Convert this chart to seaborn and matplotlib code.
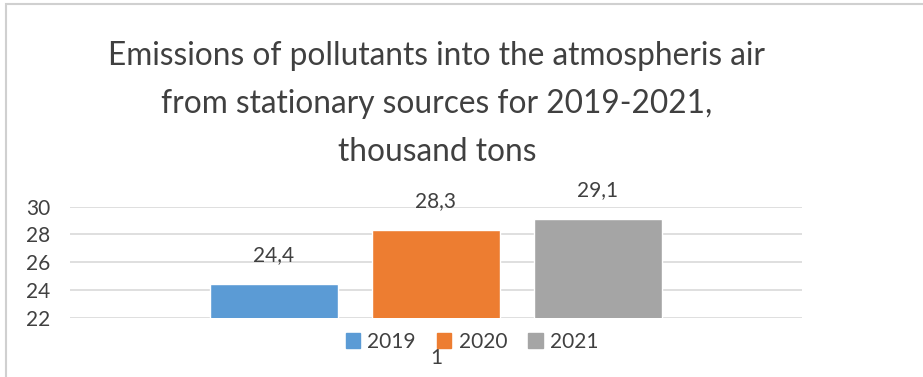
import seaborn as sns
import pandas as pd
import matplotlib.pyplot as plt
from matplotlib.patches import Rectangle

years = ["2019", "2020", "2021"]
values = [24.4, 28.3, 29.1]
category = ["1", "1", "1"]
colors = ["#5B9BD5", "#ED7D31", "#A5A5A5"]
yticks = [22, 24, 26, 28, 30]

sns.set_style("white")
plt.rcParams["font.family"] = ["Lato", "DejaVu Sans"]

df = pd.DataFrame({"cat": category, "year": years, "value": values})

fig = plt.figure(figsize=(9.23, 3.77), dpi=100)
ax = fig.add_axes([70 / 923, 1 - 317.7 / 377, 732 / 923, 111 / 377])

sns.barplot(data=df, x="cat", y="value", hue="year", hue_order=years,
            palette=colors, gap=0.21, width=0.8, saturation=1, ax=ax,
            legend=False, zorder=3)

ax.set_ylim(22, 30)
ax.set_xlim(-0.6025, 0.6025)
ax.set_yticks(yticks)
ax.set_yticklabels([str(t) for t in yticks])
ax.grid(axis="y", color="#D9D9D9", linewidth=1.2, zorder=0)
for s in ["top", "right", "left", "bottom"]:
    ax.spines[s].set_visible(False)
ax.tick_params(axis="y", length=0, pad=14, labelsize=15, labelcolor="#404040")
ax.tick_params(axis="x", length=0, pad=22, labelsize=15, labelcolor="#404040")
ax.set_xlabel("")
ax.set_ylabel("")

for cont, v in zip(ax.containers, values):
    ax.bar_label(cont, labels=[str(v).replace(".", ",")], padding=14,
                 fontsize=15, color="#404040")

fig.text(437 / 923, 1 - 104 / 377,
         "Emissions of pollutants into the atmospheris air\n"
         "from stationary sources for 2019-2021,\nthousand tons",
         ha="center", va="center", fontsize=22.8, color="#404040",
         linespacing=1.75)

handles = [Rectangle((0, 0), 1, 1, color=c) for c in colors]
fig.legend(handles, years, loc="center", bbox_to_anchor=(472 / 923, 1 - 342 / 377),
           ncol=3, frameon=False, fontsize=15, labelcolor="#404040",
           handlelength=0.7, handleheight=0.7, handletextpad=0.35, columnspacing=1.0)

fig.patches.append(Rectangle((6 / 923, -0.1), 2, 1.1 - 4 / 377, transform=fig.transFigure,
                             fill=False, edgecolor="#D0D0D0", linewidth=1.5))

fig.savefig("out.png", dpi=100)
